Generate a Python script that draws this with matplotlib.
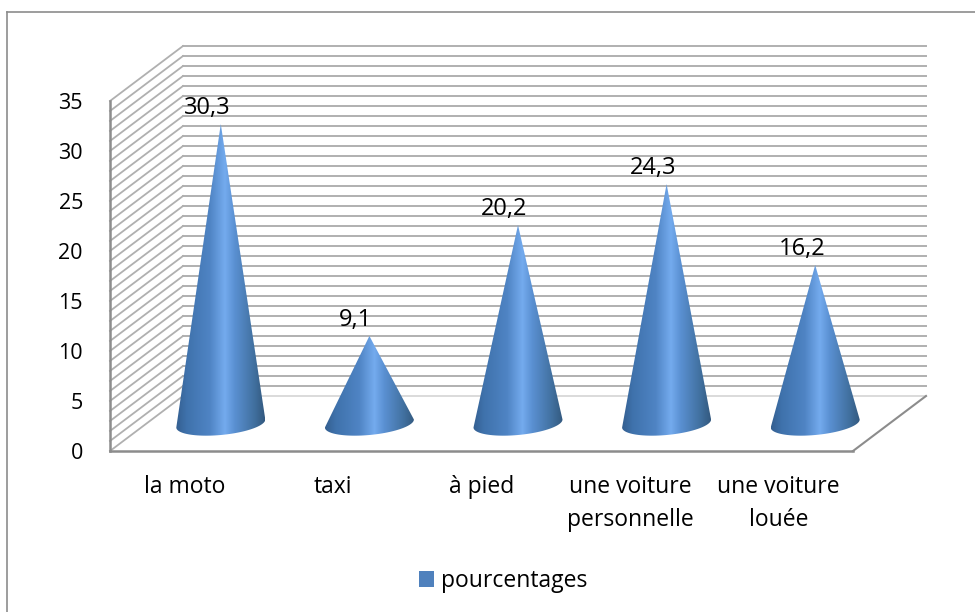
import numpy as np
import matplotlib
matplotlib.use("Agg")
import matplotlib.pyplot as plt
from matplotlib.colors import LinearSegmentedColormap
from matplotlib.patches import Polygon, Patch
from matplotlib.lines import Line2D

categories = ["la moto", "taxi", "à pied", "une voiture\npersonnelle", "une voiture\nlouée"]
values = [30.3, 9.1, 20.2, 24.3, 16.2]
labels = ["30,3", "9,1", "20,2", "24,3", "16,2"]
yticks = [0, 5, 10, 15, 20, 25, 30, 35]
series_name = "pourcentages"

W, H = 975, 612
plt.rcParams["font.family"] = ["Open Sans", "DejaVu Sans"]
FS = 16.5
fig = plt.figure(figsize=(W / 100, H / 100), dpi=100)
fig.patch.set_facecolor("white")

# outer chart frame
for xs, ys in [((7, 7), (11.5, 612)), ((7, 975), (11.5, 11.5))]:
    fig.add_artist(Line2D([x / W for x in xs], [1 - y / H for y in ys], color="#8c8c8c", lw=1.2))

L, R, T, B = 110, 853, 101, 451
ax = fig.add_axes([L / W, 1 - B / H, (R - L) / W, (B - T) / H])
ax.set_xlim(-0.5, 4.5)
ax.set_ylim(0, 35)
ax.patch.set_alpha(0)
for s in ["top", "right"]:
    ax.spines[s].set_visible(False)
for s in ["left", "bottom"]:
    ax.spines[s].set_color("#8c8c8c")
    ax.spines[s].set_linewidth(1.8)

px = (R - L) / 5          # pixels per category
py = (B - T) / 35         # pixels per unit
depth_x = 73 / px
depth_y = 55 / py

# walls
grid_c = "#b0b0b0"
for v in range(0, 36):
    ax.plot([-0.5, -0.5 + depth_x], [v, v + depth_y], color=grid_c, lw=1.3, clip_on=False, zorder=1)
    if v > 0:
        ax.plot([-0.5 + depth_x, 4.5 + depth_x], [v + depth_y] * 2, color=grid_c, lw=1.4, clip_on=False, zorder=1)
ax.plot([-0.5 + depth_x, 4.5 + depth_x], [depth_y] * 2, color="#d4d4d4", lw=1.2, clip_on=False, zorder=1)
ax.plot([4.5, 4.5 + depth_x], [0, depth_y], color="#8c8c8c", lw=1.5, clip_on=False, zorder=2)

cmap = LinearSegmentedColormap.from_list(
    "cone",
    [(0, "#345f90"), (0.12, "#3f72ac"), (0.38, "#4f84c4"), (0.55, "#74abee"),
     (0.66, "#5a90d2"), (0.88, "#41709f"), (1, "#33597f")],
)
grad = np.linspace(0, 1, 256).reshape(1, -1)

a = 44.5 / px
b = 11.5 / py
tilt = 4 / py
t = np.linspace(0, np.pi, 60)
for i, v in enumerate(values):
    cx = i + depth_x / 2
    cy = depth_y / 2
    tip_y = v + 24 / py
    arc_x = cx + a * np.cos(t)
    arc_y = cy + tilt * np.cos(t) - b * np.sin(t)
    poly = np.vstack([[cx, tip_y], np.column_stack([arc_x, arc_y])])
    patch = Polygon(poly, closed=True, transform=ax.transData, facecolor="none", edgecolor="none")
    patch.set_clip_on(False)
    ax.add_patch(patch)
    im = ax.imshow(grad, cmap=cmap, extent=[cx - a, cx + a, arc_y.min(), tip_y],
                   aspect="auto", zorder=3, interpolation="bilinear")
    im.set_clip_box(fig.bbox)
    im.set_clip_path(patch)
    ax.annotate(labels[i], (cx, tip_y), xytext=(-13.5 * 0.72, 16 * 0.72), textcoords="offset points",
                ha="center", va="center", fontsize=17, color="black", zorder=5, annotation_clip=False)

ax.set_xlim(-0.5, 4.5)
ax.set_ylim(0, 35)
ax.set_xticks(range(len(categories)))
ax.set_xticklabels(categories, fontsize=FS, linespacing=1.53)
ax.set_yticks(yticks)
ax.set_yticklabels([str(y) for y in yticks], fontsize=15.5)
ax.tick_params(axis="both", length=0)
ax.tick_params(axis="x", pad=17)
ax.tick_params(axis="y", pad=19.5)

fig.legend(handles=[Patch(facecolor="#4f81bd", label=series_name)], loc="center",
           bbox_to_anchor=(503 / W, 1 - 581 / H), frameon=False, fontsize=FS,
           handlelength=0.66, handleheight=0.66, handletextpad=0.3)

fig.savefig("out.png", dpi=100)
